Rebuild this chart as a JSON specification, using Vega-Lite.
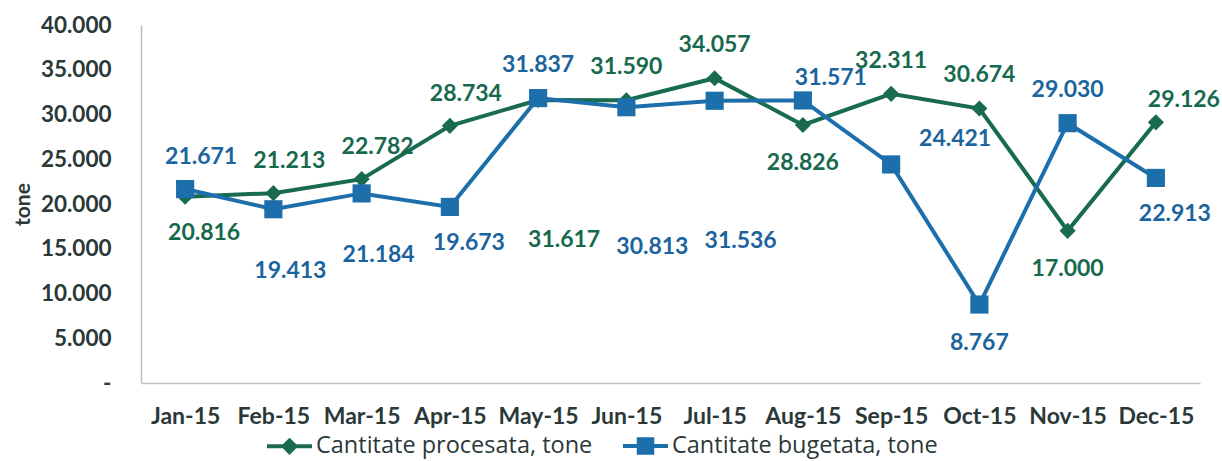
{
  "$schema": "https://vega.github.io/schema/vega-lite/v6.json",
  "autosize": "none",
  "width": 1059,
  "height": 358,
  "padding": {"left": 141, "top": 25, "right": 22, "bottom": 78},
  "background": "white",
  "config": {
    "view": {"stroke": null},
    "font": "Lato",
    "locale": {"number": {"decimal": ",", "thousands": ".", "grouping": [3], "currency": ["", ""]}}
  },
  "data": {
    "values": [
      {"month": "Jan-15", "series": "Cantitate procesata, tone", "value": 20816},
      {"month": "Feb-15", "series": "Cantitate procesata, tone", "value": 21213},
      {"month": "Mar-15", "series": "Cantitate procesata, tone", "value": 22782},
      {"month": "Apr-15", "series": "Cantitate procesata, tone", "value": 28734},
      {"month": "May-15", "series": "Cantitate procesata, tone", "value": 31617},
      {"month": "Jun-15", "series": "Cantitate procesata, tone", "value": 31590},
      {"month": "Jul-15", "series": "Cantitate procesata, tone", "value": 34057},
      {"month": "Aug-15", "series": "Cantitate procesata, tone", "value": 28826},
      {"month": "Sep-15", "series": "Cantitate procesata, tone", "value": 32311},
      {"month": "Oct-15", "series": "Cantitate procesata, tone", "value": 30674},
      {"month": "Nov-15", "series": "Cantitate procesata, tone", "value": 17000},
      {"month": "Dec-15", "series": "Cantitate procesata, tone", "value": 29126},
      {"month": "Jan-15", "series": "Cantitate bugetata, tone", "value": 21671},
      {"month": "Feb-15", "series": "Cantitate bugetata, tone", "value": 19413},
      {"month": "Mar-15", "series": "Cantitate bugetata, tone", "value": 21184},
      {"month": "Apr-15", "series": "Cantitate bugetata, tone", "value": 19673},
      {"month": "May-15", "series": "Cantitate bugetata, tone", "value": 31837},
      {"month": "Jun-15", "series": "Cantitate bugetata, tone", "value": 30813},
      {"month": "Jul-15", "series": "Cantitate bugetata, tone", "value": 31536},
      {"month": "Aug-15", "series": "Cantitate bugetata, tone", "value": 31571},
      {"month": "Sep-15", "series": "Cantitate bugetata, tone", "value": 24421},
      {"month": "Oct-15", "series": "Cantitate bugetata, tone", "value": 8767},
      {"month": "Nov-15", "series": "Cantitate bugetata, tone", "value": 29030},
      {"month": "Dec-15", "series": "Cantitate bugetata, tone", "value": 22913}
    ]
  },
  "encoding": {
    "x": {
      "field": "month", "type": "ordinal", "sort": null,
      "scale": {"paddingInner": 0, "paddingOuter": 0},
      "axis": {
        "title": null, "labelAngle": 0, "ticks": false, "domainColor": "#bfbfbf", "domainWidth": 1.5,
        "labelFont": "Lato", "labelFontSize": 23, "labelFontWeight": "bold", "labelColor": "#2b3838",
        "labelPadding": 22, "grid": false
      }
    },
    "y": {
      "field": "value", "type": "quantitative",
      "scale": {"domain": [0, 40000], "nice": false},
      "axis": {
        "title": "tone", "titleFont": "Lato", "titleFontSize": 21, "titleFontWeight": "bold", "titleColor": "#2b3838", "titlePadding": 7,
        "values": [0, 5000, 10000, 15000, 20000, 25000, 30000, 35000, 40000],
        "labelExpr": "datum.value === 0 ? '-' : format(datum.value, ',d')",
        "ticks": false, "grid": false, "domainColor": "#bfbfbf", "domainWidth": 1.5,
        "labelFont": "Lato", "labelFontSize": 22.5, "labelFontWeight": "bold", "labelColor": "#2b3838", "labelPadding": 30
      }
    }
  },
  "layer": [
    {
      "mark": {"type": "line", "strokeWidth": 4},
      "encoding": {
        "color": {
          "field": "series", "type": "nominal",
          "scale": {"domain": ["Cantitate procesata, tone", "Cantitate bugetata, tone"], "range": ["#186b4f", "#1d6fab"]},
          "legend": {
            "title": null, "orient": "none", "legendX": 124, "legendY": 396, "direction": "horizontal",
            "labelFont": "Open Sans", "labelFontSize": 23.5, "labelFontWeight": "normal", "labelColor": "#2b3838", "labelOffset": 2, "labelLimit": 0,
            "columnPadding": 22, "symbolSize": 2025, "symbolStrokeWidth": 4,
            "encode": {
              "symbols": {
                "update": {
                  "shape": {"signal": "datum.value === 'Cantitate procesata, tone' ? 'M-1,0L1,0M0,-0.26L0.26,0L0,0.26L-0.26,0Z' : 'M-1,0L1,0M-0.3,-0.3L0.3,-0.3L0.3,0.3L-0.3,0.3Z'"},
                  "fill": {"signal": "scale('color', datum.value)"},
                  "stroke": {"signal": "scale('color', datum.value)"},
                  "strokeWidth": {"value": 4},
                  "opacity": {"value": 1},
                  "fillOpacity": {"value": 1}
                }
              }
            }
          }
        }
      }
    },
    {
      "mark": {"type": "point", "filled": true, "opacity": 1},
      "encoding": {
        "shape": {"condition": {"test": "datum.series === 'Cantitate procesata, tone'", "value": "diamond"}, "value": "square"},
        "size": {"condition": {"test": "datum.series === 'Cantitate procesata, tone'", "value": 260}, "value": 330},
        "color": {"condition": {"test": "datum.series === 'Cantitate procesata, tone'", "value": "#186b4f"}, "value": "#1d6fab"}
      }
    },
    {
      "transform": [{"filter": "(datum.series === 'Cantitate procesata, tone' && indexof(['Jun-15','Jul-15','Sep-15','Oct-15'], datum.month) >= 0) || (datum.series === 'Cantitate bugetata, tone' && indexof(['May-15','Nov-15'], datum.month) >= 0)"}],
      "mark": {"type": "text", "font": "Lato", "fontSize": 23, "fontWeight": "bold", "dy": -33, "baseline": "middle"},
      "encoding": {
        "text": {"field": "value", "type": "quantitative", "format": ",d"},
        "color": {"condition": {"test": "datum.series === 'Cantitate procesata, tone'", "value": "#17694d"}, "value": "#1b649e"}
      }
    },
    {
      "transform": [{"filter": "(datum.series === 'Cantitate procesata, tone' && indexof(['Feb-15','Mar-15','Apr-15'], datum.month) >= 0) || (datum.series === 'Cantitate bugetata, tone' && indexof(['Jan-15'], datum.month) >= 0)"}],
      "mark": {"type": "text", "font": "Lato", "fontSize": 23, "fontWeight": "bold", "dy": -32, "dx": 16, "baseline": "middle"},
      "encoding": {
        "text": {"field": "value", "type": "quantitative", "format": ",d"},
        "color": {"condition": {"test": "datum.series === 'Cantitate procesata, tone'", "value": "#17694d"}, "value": "#1b649e"}
      }
    },
    {
      "transform": [{"filter": "(datum.series === 'Cantitate procesata, tone' && indexof(['Aug-15','Nov-15'], datum.month) >= 0) || (datum.series === 'Cantitate bugetata, tone' && indexof(['Oct-15'], datum.month) >= 0)"}],
      "mark": {"type": "text", "font": "Lato", "fontSize": 23, "fontWeight": "bold", "dy": 38, "baseline": "middle"},
      "encoding": {
        "text": {"field": "value", "type": "quantitative", "format": ",d"},
        "color": {"condition": {"test": "datum.series === 'Cantitate procesata, tone'", "value": "#17694d"}, "value": "#1b649e"}
      }
    },
    {
      "transform": [{"filter": "(datum.series === 'Cantitate procesata, tone' && indexof(['Jan-15'], datum.month) >= 0) || (datum.series === 'Cantitate bugetata, tone' && indexof(['Apr-15','Dec-15'], datum.month) >= 0)"}],
      "mark": {"type": "text", "font": "Lato", "fontSize": 23, "fontWeight": "bold", "dy": 36, "dx": 19, "baseline": "middle"},
      "encoding": {
        "text": {"field": "value", "type": "quantitative", "format": ",d"},
        "color": {"condition": {"test": "datum.series === 'Cantitate procesata, tone'", "value": "#17694d"}, "value": "#1b649e"}
      }
    },
    {
      "transform": [{"filter": "datum.series === 'Cantitate bugetata, tone' && indexof(['Feb-15','Mar-15'], datum.month) >= 0"}],
      "mark": {"type": "text", "font": "Lato", "fontSize": 23, "fontWeight": "bold", "dy": 62, "dx": 17, "baseline": "middle"},
      "encoding": {
        "text": {"field": "value", "type": "quantitative", "format": ",d"},
        "color": {"value": "#1b649e"}
      }
    },
    {
      "transform": [{"filter": "(datum.series === 'Cantitate procesata, tone' && indexof(['May-15'], datum.month) >= 0) || (datum.series === 'Cantitate bugetata, tone' && indexof(['Jun-15','Jul-15'], datum.month) >= 0)"}],
      "mark": {"type": "text", "font": "Lato", "fontSize": 23, "fontWeight": "bold", "dy": 140, "dx": 26, "baseline": "middle"},
      "encoding": {
        "text": {"field": "value", "type": "quantitative", "format": ",d"},
        "color": {"condition": {"test": "datum.series === 'Cantitate procesata, tone'", "value": "#17694d"}, "value": "#1b649e"}
      }
    },
    {
      "transform": [{"filter": "(datum.series === 'Cantitate procesata, tone' && indexof(['Dec-15'], datum.month) >= 0) || (datum.series === 'Cantitate bugetata, tone' && indexof(['Aug-15'], datum.month) >= 0)"}],
      "mark": {"type": "text", "font": "Lato", "fontSize": 23, "fontWeight": "bold", "dy": -22, "dx": 28, "baseline": "middle"},
      "encoding": {
        "text": {"field": "value", "type": "quantitative", "format": ",d"},
        "color": {"condition": {"test": "datum.series === 'Cantitate procesata, tone'", "value": "#17694d"}, "value": "#1b649e"}
      }
    },
    {
      "transform": [{"filter": "datum.series === 'Cantitate bugetata, tone' && datum.month === 'Sep-15'"}],
      "mark": {"type": "text", "font": "Lato", "fontSize": 23, "fontWeight": "bold", "dy": -25, "dx": 64, "baseline": "middle"},
      "encoding": {
        "text": {"field": "value", "type": "quantitative", "format": ",d"},
        "color": {"value": "#1b649e"}
      }
    }
  ]
}
